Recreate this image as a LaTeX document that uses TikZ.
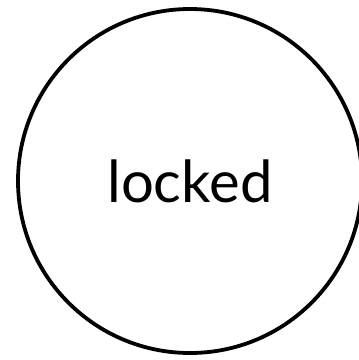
\documentclass[tikz,border=0pt]{standalone}
\usepackage{fontspec}
\setmainfont{Lato}
\begin{document}
\begin{tikzpicture}[x=1pt,y=-1pt,
  state/.style={circle,draw=black,line width=3.8pt,minimum size=344pt,inner sep=0pt,font=\fontsize{58}{68}\selectfont}]
\useasboundingbox (0,0) rectangle (359,360);
\node[state] (locked) at (190,181) {\raisebox{-1pt}{locked}};
\end{tikzpicture}
\end{document}
